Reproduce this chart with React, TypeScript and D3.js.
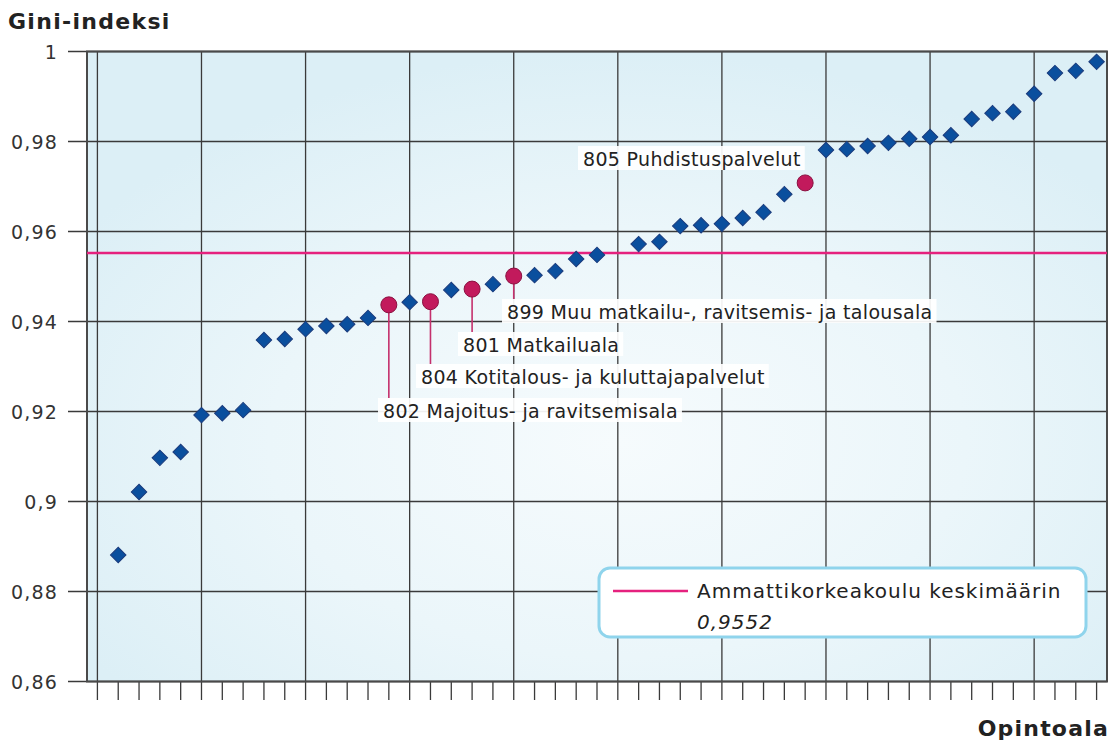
import React, { useEffect, useRef } from "react";
import * as d3 from "d3";

// ---- data ----
const slots = [1, 2, 3, 4, 5, 6, 7, 8, 9, 10, 11, 12, 13, 14, 15, 16, 17, 18, 19, 20, 21, 22, 23, 24,
  26, 27, 28, 29, 30, 31, 32, 33, 34, 35, 36, 37, 38, 39, 40, 41, 42, 43, 44, 45, 46, 47, 48];
const giniValues = [0.8881, 0.9021, 0.9097, 0.911, 0.9192, 0.9196, 0.9203, 0.9359, 0.9361, 0.9383,
  0.939, 0.9394, 0.9408, 0.9437, 0.9443, 0.9444, 0.947, 0.9472, 0.9483, 0.9501, 0.9503, 0.9512,
  0.9539, 0.9548, 0.9572, 0.9577, 0.9612, 0.9614, 0.9617, 0.963, 0.9643, 0.9683, 0.9708, 0.9781,
  0.9783, 0.979, 0.9797, 0.9806, 0.981, 0.9814, 0.985, 0.9863, 0.9866, 0.9906, 0.9952, 0.9957, 0.9977];
const highlightSlots = [14, 16, 18, 20, 34];
const highlightLabels = [
  "802 Majoitus- ja ravitsemisala",
  "804 Kotitalous- ja kuluttajapalvelut",
  "801 Matkailuala",
  "899 Muu matkailu-, ravitsemis- ja talousala",
  "805 Puhdistuspalvelut",
];
const averageValue = 0.9552;
const averageLabel = "Ammattikorkeakoulu keskimäärin";
const averageText = "0,9552";
const yTicks = [0.86, 0.88, 0.9, 0.92, 0.94, 0.96, 0.98, 1];
const yTitle = "Gini-indeksi";
const xTitle = "Opintoala";

// ---- layout (pixels) ----
const labelLayout = [
  { tx: 383, base: 418, leader: true },
  { tx: 421, base: 384, leader: true },
  { tx: 463, base: 352, leader: true },
  { tx: 507, base: 319, leader: true },
  { tx: 583, base: 166, leader: false },
];

const W = 1119, H = 744;
const left = 87, right = 1107, top = 51.5, bottom = 681.5;
const FONT = "'DejaVu Sans', Verdana, sans-serif";

export default function App() {
  const ref = useRef<SVGSVGElement>(null);
  useEffect(() => {
    const svg = d3.select(ref.current);
    svg.selectAll("*").remove();
    const x = d3.scaleLinear().domain([-0.5, 48.5]).range([left, right]);
    const y = d3.scaleLinear().domain([0.86, 1]).range([bottom, top]);

    const defs = svg.append("defs");
    const rg = defs.append("radialGradient").attr("id", "bg")
      .attr("cx", 0.52).attr("cy", 0.62).attr("r", 0.62);
    rg.append("stop").attr("offset", "0%").attr("stop-color", "#f6fbfd");
    rg.append("stop").attr("offset", "55%").attr("stop-color", "#ebf6fa");
    rg.append("stop").attr("offset", "100%").attr("stop-color", "#dceff6");

    svg.append("rect").attr("x", left).attr("y", top).attr("width", right - left)
      .attr("height", bottom - top).attr("fill", "url(#bg)");

    // grid horizontal
    svg.append("g").selectAll("line").data(yTicks).join("line")
      .attr("x1", 68).attr("x2", right).attr("y1", d => y(d)).attr("y2", d => y(d))
      .attr("stroke", "#3a3a3a").attr("stroke-width", 1.3);
    // grid vertical
    const vgrid = d3.range(0, 49, 5);
    svg.append("g").selectAll("line").data(vgrid).join("line")
      .attr("x1", d => x(d)).attr("x2", d => x(d)).attr("y1", top).attr("y2", bottom)
      .attr("stroke", "#3a3a3a").attr("stroke-width", 1.3);
    // x ticks
    svg.append("g").selectAll("line").data(d3.range(0, 49)).join("line")
      .attr("x1", d => x(d)).attr("x2", d => x(d)).attr("y1", bottom).attr("y2", 700)
      .attr("stroke", "#3a3a3a").attr("stroke-width", 1.3);
    // frame
    svg.append("rect").attr("x", left).attr("y", top).attr("width", right - left)
      .attr("height", bottom - top).attr("fill", "none").attr("stroke", "#4a4a4a").attr("stroke-width", 2);

    // y tick labels
    svg.append("g").selectAll("text").data(yTicks).join("text")
      .attr("x", 58).attr("y", d => y(d) + 7).attr("text-anchor", "end")
      .attr("font-family", FONT).attr("font-size", 19).attr("letter-spacing", 1.2).attr("fill", "#333")
      .text(d => d === 1 ? "1" : d3.format(".2~f")(d).replace(".", ","));

    // average line
    svg.append("line").attr("x1", left).attr("x2", right).attr("y1", y(averageValue)).attr("y2", y(averageValue))
      .attr("stroke", "#e5217e").attr("stroke-width", 2.5);

    const pts = slots.map((s, i) => ({ s, v: giniValues[i] }));
    const diamonds = pts.filter(p => !highlightSlots.includes(p.s));
    const circles = pts.filter(p => highlightSlots.includes(p.s));

    // leaders + labels
    highlightSlots.forEach((s, i) => {
      const p = pts.find(q => q.s === s)!;
      const L = labelLayout[i];
      const boxTop = L.base - 20;
      if (L.leader) {
        svg.append("line").attr("x1", x(s)).attr("x2", x(s)).attr("y1", y(p.v)).attr("y2", boxTop)
          .attr("stroke", "#c4306c").attr("stroke-width", 1.6);
      }
      const g = svg.append("g");
      const r = g.append("rect").attr("fill", "#ffffff").attr("fill-opacity", 0.92);
      const t = g.append("text").attr("x", L.tx).attr("y", L.base)
        .attr("font-family", FONT).attr("font-size", 19).attr("letter-spacing", 0.33)
        .attr("fill", "#222").text(highlightLabels[i]);
      const bb = (t.node() as SVGTextElement).getBBox();
      r.attr("x", L.tx - 5).attr("y", boxTop).attr("width", bb.width + 9).attr("height", 24);
    });

    // diamonds
    svg.append("g").selectAll("path").data(diamonds).join("path")
      .attr("d", d3.symbol(d3.symbolSquare, 120) as any)
      .attr("transform", d => `translate(${x(d.s)},${y(d.v)}) rotate(45)`)
      .attr("fill", "#0a4f9e").attr("stroke", "#1b3b7c").attr("stroke-width", 1);
    // circles
    svg.append("g").selectAll("circle").data(circles).join("circle")
      .attr("cx", d => x(d.s)).attr("cy", d => y(d.v)).attr("r", 8)
      .attr("fill", "#c21a5c").attr("stroke", "#8a1040").attr("stroke-width", 1);

    // legend
    const lg = svg.append("g");
    lg.append("rect").attr("x", 599).attr("y", 568).attr("width", 487).attr("height", 69).attr("rx", 11)
      .attr("fill", "#ffffff").attr("stroke", "#8fd4ec").attr("stroke-width", 3);
    lg.append("line").attr("x1", 613).attr("x2", 688).attr("y1", 591).attr("y2", 591)
      .attr("stroke", "#e5217e").attr("stroke-width", 2.5);
    lg.append("text").attr("x", 697).attr("y", 598).attr("font-family", FONT).attr("font-size", 20)
      .attr("letter-spacing", 1.0).attr("fill", "#222").text(averageLabel);
    lg.append("text").attr("x", 697).attr("y", 629).attr("font-family", FONT).attr("font-size", 20)
      .attr("letter-spacing", 1.0).attr("font-style", "italic").attr("fill", "#222").text(averageText);

    // titles
    svg.append("text").attr("x", 8).attr("y", 29).attr("font-family", FONT).attr("font-size", 22)
      .attr("letter-spacing", 1.3).attr("font-weight", "bold").attr("fill", "#222").text(yTitle);
    svg.append("text").attr("x", 1109).attr("y", 736).attr("text-anchor", "end").attr("font-family", FONT)
      .attr("font-size", 22).attr("letter-spacing", 1.2).attr("font-weight", "bold").attr("fill", "#222").text(xTitle);
  }, []);
  return (
    <svg ref={ref} width={W} height={H} style={{ position: "absolute", left: 0, top: 0, display: "block" }} />
  );
}
